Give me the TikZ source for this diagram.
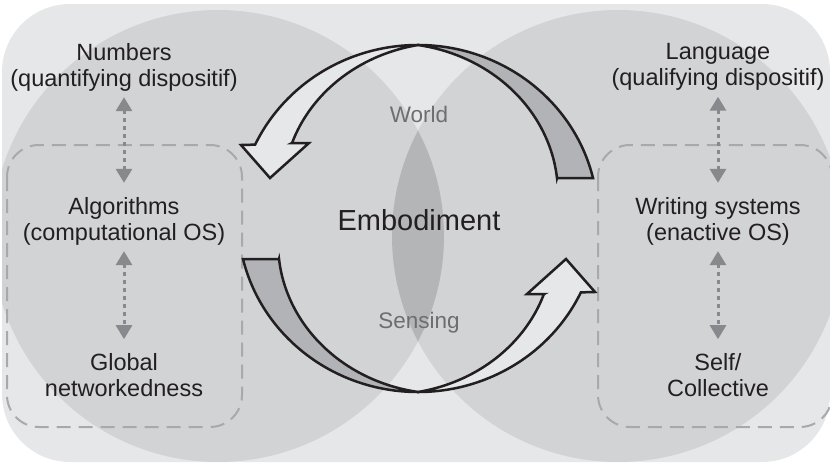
\documentclass[tikz,border=0pt]{standalone}
\usepackage{fontspec}
\setmainfont{Liberation Sans}
\usepackage{tikz}
\usetikzlibrary{arrows.meta}
\usepackage{xcolor}

\definecolor{bggray}{HTML}{E6E7E8}
\definecolor{circlegray}{HTML}{D1D3D4}
\definecolor{lensgray}{HTML}{B4B5B7}
\definecolor{tailgray}{HTML}{B1B3B6}
\definecolor{dashgray}{HTML}{A7A9AC}
\definecolor{dotgray}{HTML}{88898C}
\definecolor{textdark}{HTML}{231F20}
\definecolor{labelgray}{HTML}{6D6E71}

\begin{document}
\begin{tikzpicture}[x=1pt, y=1pt,
    sidetext/.style = {align=center, inner sep=0pt, text=textdark, font=\fontsize{23.5}{26}\selectfont},
    looptext/.style = {inner sep=0pt, text=labelgray, font=\fontsize{22.5}{26}\selectfont},
    maintext/.style = {inner sep=0pt, text=textdark, font=\fontsize{29}{32}\selectfont},
    osbox/.style = {draw=dashgray, line width=2pt, dash pattern=on 14pt off 8pt, rounded corners=32pt},
    dotarrow/.style = {draw=dotgray, line width=3pt, dash pattern=on 4pt off 4pt, {Triangle[width=16pt,length=14pt]}-{Triangle[width=16pt,length=14pt]}, shorten <=6pt, shorten >=14pt},
    bandedge/.style = {draw=textdark, line width=2.5pt, line join=miter},
    halfloop/.pic = {
        % dark tail, tapering to the top
        \filldraw [bandedge, fill=tailgray] (0,173.5) arc[start angle=90, end angle=13.5, x radius=180, y radius=173.5]
            -- (139,40.5)
            -- plot[domain=16.8:90, samples=40, variable=\t] ({180*(0.8066+0.1934*(\t-16.8)/73.2)*cos(\t)}, {173.5*(0.8066+0.1934*(\t-16.8)/73.2)*sin(\t)})
            -- cycle;
        % light arrow with its head
        \filldraw [bandedge, fill=bggray] (0,173.5) arc[start angle=90, end angle=154.8, x radius=180, y radius=173.5]
            -- (-177,73.5) -- (-148,40.5) -- (-109,75.5) -- (-126,75.5)
            -- plot[domain=148.1:90, samples=40, variable=\t] ({180*(1-0.176*(\t-90)/58.1)*cos(\t)}, {173.5*(1-0.176*(\t-90)/58.1)*sin(\t)})
            -- cycle;
    }
]

\useasboundingbox (0,0) rectangle (830,-463);

% Background and the two circles
\fill [bggray, rounded corners=68pt] (2,-4) rectangle (830,-462);
\begin{scope}
    \clip [rounded corners=68pt] (2,-4) rectangle (830,-462);
    \fill [circlegray] (218,-236) circle (226);
    \fill [circlegray] (618,-236) circle (226);
    \clip (218,-236) circle (226);
    \fill [lensgray] (618,-236) circle (226);
\end{scope}

% Dashed operating system boxes
\draw [osbox] (7,-145) rectangle (242,-427);
\draw [osbox] (598,-145) rectangle (832,-427);

% Circular loop: top half and its 180 degree copy
\pic at (418,-218.5) {halfloop};
\pic [rotate=180] at (418,-218.5) {halfloop};

% Centre labels
\node (world) [looptext] at (419,-114) {World};
\node (embodiment) [maintext] at (419,-220.5) {Embodiment};
\node (sensing) [looptext] at (419,-323) {Sensing};

% Left column
\node (numbers) [sidetext] at (124,-67) {Numbers\\(quantifying dispositif)};
\node (algorithms) [sidetext] at (124,-221) {Algorithms\\(computational OS)};
\node (global) [sidetext] at (124,-375) {Global\\networkedness};

% Right column
\node (language) [sidetext] at (718,-67) {Language\\(qualifying dispositif)};
\node (writing) [sidetext] at (718,-221) {Writing systems\\(enactive OS)};
\node (self) [sidetext] at (718,-375) {Self/\\Collective};

% Dotted two-way links
\draw [dotarrow] (numbers.south) -- (algorithms.north);
\draw [dotarrow] (algorithms.south) -- (global.north);
\draw [dotarrow] (language.south) -- (writing.north);
\draw [dotarrow] (writing.south) -- (self.north);

\end{tikzpicture}
\end{document}
